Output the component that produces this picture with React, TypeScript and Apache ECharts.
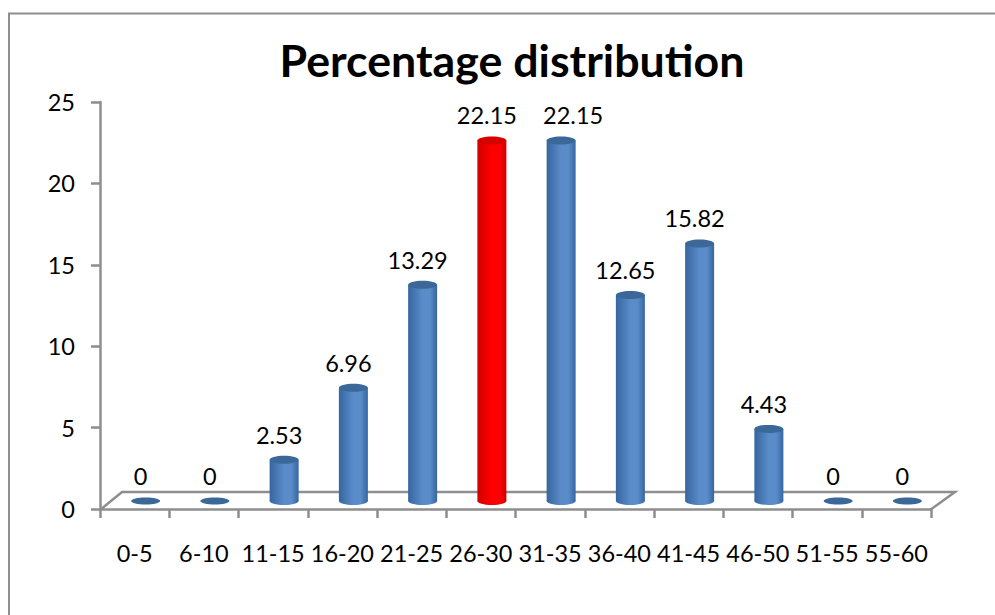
import React, { useEffect, useRef } from "react";
import * as echarts from "echarts";

const titleText = "Percentage distribution";
const categories = ["0-5", "6-10", "11-15", "16-20", "21-25", "26-30", "31-35", "36-40", "41-45", "46-50", "51-55", "55-60"];
const percentages = [0, 0, 2.53, 6.96, 13.29, 22.15, 22.15, 12.65, 15.82, 4.43, 0, 0];
const highlightedCategory = "26-30";
const shiftedLabelCategory = "31-35";

const FONT = "Lato, 'Open Sans', sans-serif";
const AXIS = "#8e8e8e";
const DX = 11;
const DY = -8;
const RX = 14.5;
const RY = 4;
const LABEL_SIZE = 23.5;

const bluePalette = { edge: "#36669f", mid: "#5a8cca", top: "#3b6899" };
const redPalette = { edge: "#d00000", mid: "#ff0000", top: "#d60000" };

function renderBar(params: any, api: any) {
  const idx = api.value(0);
  const val = api.value(1);
  const base = api.coord([idx, 0]);
  const top = api.coord([idx, val]);
  const cx = base[0] + DX;
  const by = base[1] + DY;
  const ty = top[1] + DY;
  const pal = categories[idx] === highlightedCategory ? redPalette : bluePalette;
  const fill = new echarts.graphic.LinearGradient(0, 0, 1, 0, [
    { offset: 0, color: pal.edge },
    { offset: 0.5, color: pal.mid },
    { offset: 0.75, color: pal.mid },
    { offset: 1, color: pal.edge },
  ]);
  const children: any[] = [];
  if (val > 0) {
    children.push(
      { type: "ellipse", shape: { cx, cy: by, rx: RX, ry: RY }, style: { fill } },
      { type: "rect", shape: { x: cx - RX, y: ty, width: RX * 2, height: by - ty }, style: { fill } }
    );
  }
  children.push({ type: "ellipse", shape: { cx, cy: ty, rx: RX, ry: val > 0 ? RY : 3.5 }, style: { fill: pal.top } });
  children.push({
    type: "text",
    x: cx + (categories[idx] === shiftedLabelCategory ? 12 : -5),
    y: ty - 25,
    style: {
      text: String(val),
      fill: "#000",
      font: `${LABEL_SIZE}px ${FONT}`,
      textAlign: "center",
      textVerticalAlign: "middle",
    },
  });
  return { type: "group", children };
}

export default function App() {
  const ref = useRef<HTMLDivElement>(null);
  useEffect(() => {
    const chart = echarts.init(ref.current!, null, { renderer: "svg" });
    chart.setOption({
      animation: false,
      backgroundColor: "#fff",
      title: {
        text: titleText,
        left: 507,
        top: 32,
        textAlign: "center",
        textStyle: { fontFamily: FONT, fontWeight: "bold", fontSize: 44.7, color: "#000" },
      },
      grid: { left: 100, top: 102, width: 831, height: 407 },
      xAxis: {
        type: "category",
        data: categories,
        boundaryGap: true,
        axisLine: { lineStyle: { color: AXIS, width: 2.5 } },
        axisTick: { show: true, alignWithLabel: false, length: 9, lineStyle: { color: AXIS, width: 2.5 } },
        axisLabel: { color: "#000", fontFamily: FONT, fontSize: LABEL_SIZE, margin: 32, interval: 0 },
      },
      yAxis: {
        type: "value",
        min: 0,
        max: 25,
        interval: 5,
        splitLine: { show: false },
        axisLine: { show: true, lineStyle: { color: AXIS, width: 2.5 } },
        axisTick: { show: true, length: 9, lineStyle: { color: AXIS, width: 2.5 } },
        axisLabel: { color: "#000", fontFamily: FONT, fontSize: LABEL_SIZE, margin: 25, padding: [3, 0, 0, 0] },
      },
      graphic: [
        {
          type: "polyline",
          z: 0,
          shape: { points: [[9, 615], [9, 13.5], [995, 13.5]] },
          style: { stroke: AXIS, lineWidth: 2, fill: "none" },
        },
        {
          type: "polyline",
          z: 0,
          shape: { points: [[100, 510], [122, 492], [955, 492], [930, 510]] },
          style: { stroke: AXIS, lineWidth: 2.5, fill: "none" },
        },
      ],
      series: [
        {
          type: "custom",
          renderItem: renderBar,
          encode: { x: 0, y: 1 },
          data: percentages.map((v, i) => [i, v]),
          clip: false,
        },
      ],
    });
    return () => chart.dispose();
  }, []);
  return <div ref={ref} style={{ position: "fixed", left: 0, top: 0, width: 995, height: 615 }} />;
}
